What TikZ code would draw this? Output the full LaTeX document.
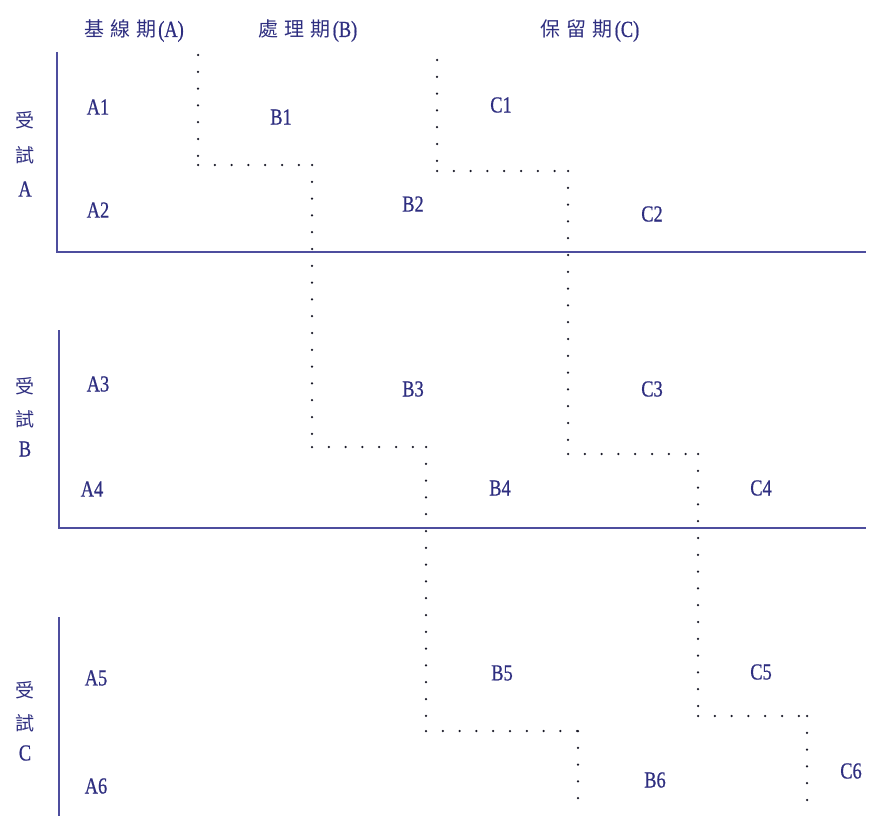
\documentclass[tikz,border=0pt]{standalone}
\usepackage{fontspec}
\setmainfont{Liberation Serif}
\newfontfamily\latf[FakeStretch=0.8,FakeBold=0.6]{Liberation Serif}
\newfontfamily\cjk{Noto Sans CJK TC}
\definecolor{axiscol}{HTML}{4E4E9E}
\definecolor{txtcol}{HTML}{2E2E80}
\definecolor{dotcol}{HTML}{1A1A28}
\newcommand{\hgap}{\hspace{6pt}}
\begin{document}
\begin{tikzpicture}[x=1pt,y=-1pt,
  axis/.style={draw=axiscol,line width=1.8pt},
  lab/.style={text=txtcol,font=\latf\fontsize{23}{23}\selectfont,inner sep=0pt},
  head/.style={text=txtcol,font=\cjk\fontsize{20}{20}\selectfont,inner sep=0pt},
  side/.style={text=txtcol,font=\cjk\fontsize{19}{19}\selectfont,inner sep=0pt},
  sidel/.style={text=txtcol,font=\latf\fontsize{23}{23}\selectfont,inner sep=0pt},
  dotline/.style={draw=dotcol,line width=2.5pt,line cap=round,dash pattern=on 0pt off 16.8pt}]
\useasboundingbox[fill=white] (0,0) rectangle (869,816);
% headers
\node[head] (hA) at (134,31) {基\hgap 線\hgap 期\hspace{2pt}{\latf\fontsize{23}{23}\selectfont(A)}};
\node[head] (hB) at (308,31) {處\hgap 理\hgap 期\hspace{2pt}{\latf\fontsize{23}{23}\selectfont(B)}};
\node[head] (hC) at (590,31) {保\hgap 留\hgap 期\hspace{2pt}{\latf\fontsize{23}{23}\selectfont(C)}};
% side labels
\node[side] (sA1) at (25,120) {受};
\node[side] (sA2) at (25,155) {試};
\node[sidel] (sA3) at (25,189) {A};
\node[side] (sB1) at (25,386) {受};
\node[side] (sB2) at (25,419) {試};
\node[sidel] (sB3) at (25,449) {B};
\node[side] (sC1) at (25,690) {受};
\node[side] (sC2) at (25,723) {試};
\node[sidel] (sC3) at (25,753) {C};
% axes
\coordinate (a0) at (57,52); \coordinate (a1) at (57,252); \coordinate (a2) at (866,252);
\coordinate (b0) at (59,330); \coordinate (b1) at (59,528); \coordinate (b2) at (866,528);
\coordinate (c0) at (59,617); \coordinate (c1) at (59,816);
\draw[axis] (a0) -- (a1) -- (a2);
\draw[axis] (b0) -- (b1) -- (b2);
\draw[axis] (c0) -- (c1);
% cell labels
\node[lab] (A1) at (98,107) {A1};
\node[lab] (B1) at (281,117) {B1};
\node[lab] (C1) at (501,105) {C1};
\node[lab] (A2) at (98,210) {A2};
\node[lab] (B2) at (413,204) {B2};
\node[lab] (C2) at (652,214) {C2};
\node[lab] (A3) at (98,384) {A3};
\node[lab] (B3) at (413,389) {B3};
\node[lab] (C3) at (652,389) {C3};
\node[lab] (A4) at (92,489) {A4};
\node[lab] (B4) at (500,488) {B4};
\node[lab] (C4) at (761,488) {C4};
\node[lab] (A5) at (96,678) {A5};
\node[lab] (B5) at (502,673) {B5};
\node[lab] (C5) at (761,672) {C5};
\node[lab] (A6) at (96,786) {A6};
\node[lab] (B6) at (655,780) {B6};
\node[lab] (C6) at (851,771) {C6};
% dotted phase lines (B)
\coordinate (p0) at (198,55);  \coordinate (p1) at (198,165);
\coordinate (p2) at (312,165); \coordinate (p3) at (312,447);
\coordinate (p4) at (426,447); \coordinate (p5) at (426,731);
\coordinate (p6) at (578,731); \coordinate (p7) at (578,810);
\draw[dotline] (p0) -- (p1);
\draw[dotline] (p1) -- (p2);
\draw[dotline] (p2) -- (p3);
\draw[dotline] (p3) -- (p4);
\draw[dotline] (p4) -- (p5);
\draw[dotline] (p5) -- (p6);
\draw[dotline] (p6) -- (p7);
% dotted phase lines (C)
\coordinate (q0) at (437,60);  \coordinate (q1) at (437,171);
\coordinate (q2) at (568,171); \coordinate (q3) at (568,454);
\coordinate (q4) at (698,454); \coordinate (q5) at (698,716);
\coordinate (q6) at (807,716); \coordinate (q7) at (807,802);
\draw[dotline] (q0) -- (q1);
\draw[dotline] (q1) -- (q2);
\draw[dotline] (q2) -- (q3);
\draw[dotline] (q3) -- (q4);
\draw[dotline] (q4) -- (q5);
\draw[dotline] (q5) -- (q6);
\draw[dotline] (q6) -- (q7);
\end{tikzpicture}
\end{document}
